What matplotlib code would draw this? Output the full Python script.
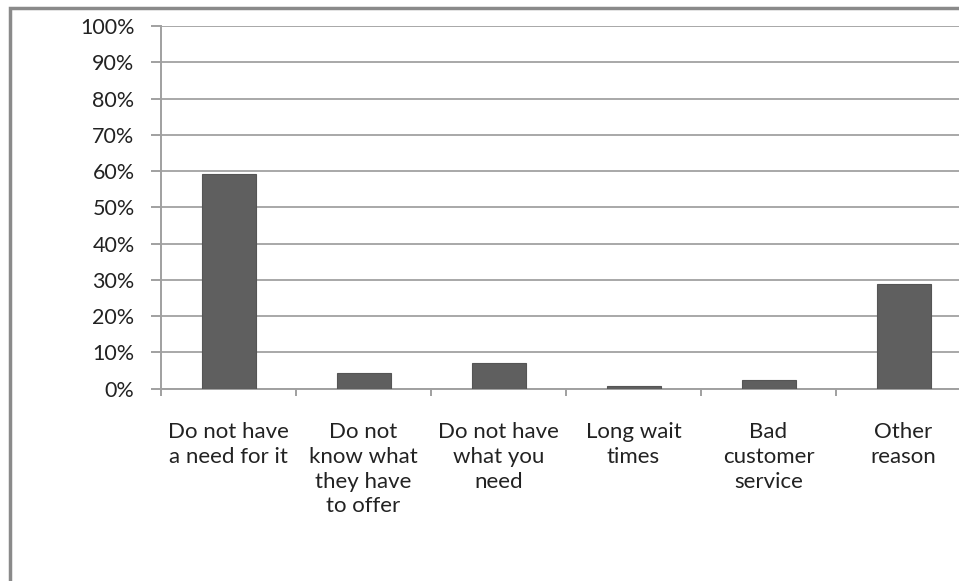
import matplotlib.pyplot as plt
from matplotlib.patches import Rectangle
import numpy as np

# Datos
categorias = ["Do not have\na need for it", "Do not\nknow what\nthey have\nto offer",
              "Do not have\nwhat you\nneed", "Long wait\ntimes", "Bad\ncustomer\nservice",
              "Other\nreason"]
valores = [59.2, 4.3, 7.0, 0.7, 2.3, 28.8]
ticks_y = list(range(0, 101, 10))

plt.rcParams['font.family'] = ['Lato', 'DejaVu Sans']

fig = plt.figure(figsize=(9.59, 5.81), dpi=100)
ax = fig.add_axes([161/959, 1 - 388.7/581, 810/959, 362.7/581])

x = np.arange(len(categorias))
ax.bar(x, valores, width=0.4, color='#5f5f5f', edgecolor='#555555', linewidth=0.8, zorder=3)

ax.set_xlim(-0.5, len(categorias) - 0.5)
ax.set_ylim(0, 100)
ax.set_yticks(ticks_y)
ax.set_yticklabels([f"{t}%" for t in ticks_y], fontsize=15.5, color='#222222')
ax.set_xticks(x)
ax.set_xticklabels(categorias, fontsize=16, color='#222222', linespacing=1.3)
ax.set_xticks(np.arange(len(categorias) + 1) - 0.5, minor=True)

ax.grid(axis='y', color='#a8a8a8', linewidth=1.4, zorder=0)
for lado in ['top', 'right']:
    ax.spines[lado].set_visible(False)
ax.spines['left'].set_color('#a0a0a0')
ax.spines['bottom'].set_color('#a0a0a0')
ax.spines['left'].set_linewidth(1.4)
ax.spines['bottom'].set_linewidth(1.4)

ax.tick_params(axis='y', length=7, width=1.4, color='#a0a0a0', pad=12)
ax.tick_params(axis='x', which='major', length=0, pad=24)
ax.tick_params(axis='x', which='minor', length=5, width=1.4, color='#a0a0a0')

# Borde exterior del gráfico
fig.patches.append(Rectangle((10/959, -0.1), 1.2, 1 - 8/581 + 0.1, transform=fig.transFigure,
                             fill=False, edgecolor='#8a8a8a', linewidth=2.5))

plt.savefig("out.png", dpi=100)
